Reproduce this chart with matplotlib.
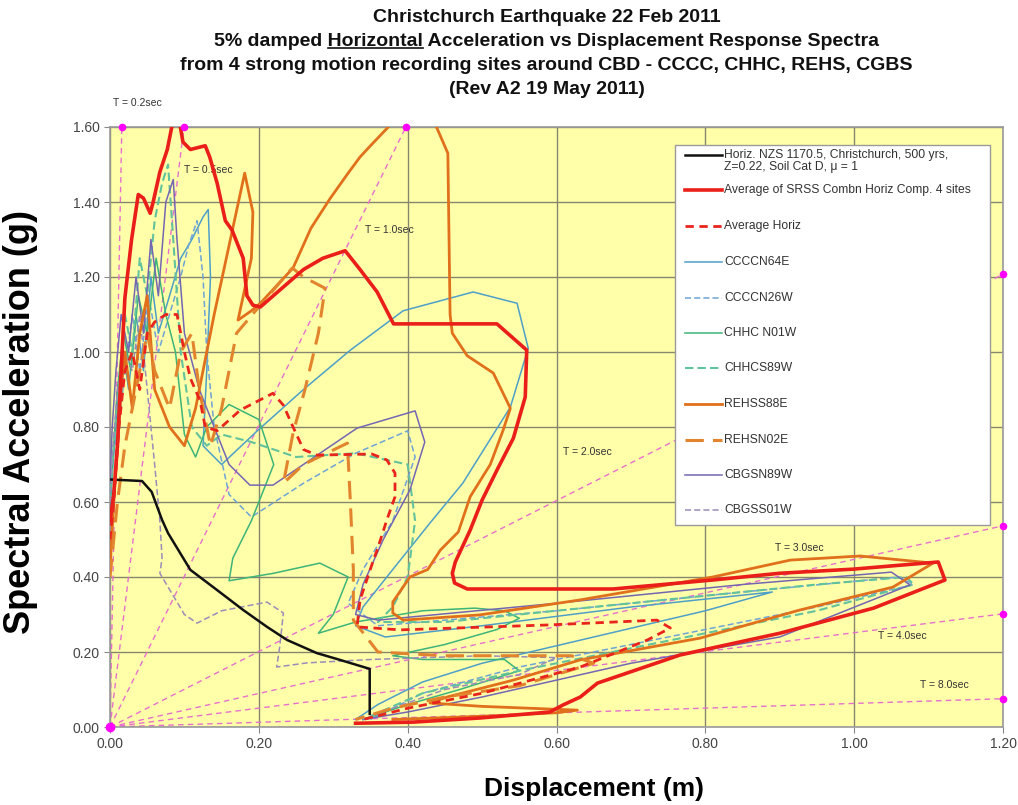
import matplotlib.pyplot as plt
from matplotlib.patches import Rectangle
import numpy as np

# ---- period lines (T) ----
periods = [0.2, 0.5, 1.0, 2.0, 3.0, 4.0, 8.0]
period_labels = ['T = 0.2sec', 'T = 0.5sec', 'T = 1.0sec', 'T = 2.0sec',
                 'T = 3.0sec', 'T = 4.0sec', 'T = 8.0sec']
period_label_sd = [0.004, 0.100, 0.343, 0.609, 0.894, 1.032, 1.089]
period_label_sa = [1.665, 1.485, 1.325, 0.733, 0.477, 0.243, 0.112]

# ---- spectra (displacement m, acceleration g) ----
nzs_sd = [0.0, 0.043, 0.056, 0.07, 0.078, 0.108, 0.144, 0.179, 0.211, 0.238, 0.278, 0.309, 0.349, 0.349]
nzs_sa = [0.66, 0.656, 0.627, 0.552, 0.517, 0.419, 0.365, 0.312, 0.267, 0.232, 0.197, 0.179, 0.155, 0.035]

srss_sd = [0.0, 0.005, 0.01, 0.015, 0.02, 0.029, 0.038, 0.045, 0.054, 0.058, 0.067, 0.077, 0.085, 0.092,
           0.098, 0.108, 0.128, 0.134, 0.144, 0.155, 0.164, 0.179, 0.184, 0.192, 0.202, 0.26, 0.286, 0.316,
           0.336, 0.359, 0.381, 0.52, 0.56, 0.558, 0.542, 0.52, 0.50, 0.484, 0.464, 0.46, 0.463, 0.48,
           0.676, 0.81, 0.90, 0.999, 1.113, 1.122, 1.026, 0.90, 0.766, 0.655, 0.632, 0.609, 0.591, 0.497,
           0.407, 0.33]
srss_sa = [0.55, 0.62, 0.75, 0.95, 1.144, 1.30, 1.42, 1.41, 1.37, 1.40, 1.48, 1.54, 1.62, 1.63,
           1.56, 1.54, 1.55, 1.52, 1.45, 1.35, 1.325, 1.25, 1.15, 1.125, 1.12, 1.22, 1.25, 1.27,
           1.22, 1.16, 1.075, 1.075, 1.005, 0.88, 0.77, 0.685, 0.605, 0.525, 0.44, 0.41, 0.384, 0.368,
           0.368, 0.392, 0.41, 0.421, 0.44, 0.392, 0.317, 0.25, 0.192, 0.117, 0.08, 0.059, 0.04, 0.024,
           0.013, 0.01]

avg_sd = [0.0, 0.005, 0.012, 0.02, 0.03, 0.04, 0.05, 0.06, 0.075, 0.09, 0.1, 0.108, 0.121, 0.128, 0.144,
          0.175, 0.219, 0.233, 0.246, 0.26, 0.278, 0.352, 0.372, 0.383, 0.383, 0.372, 0.359, 0.354, 0.336,
          0.332, 0.39, 0.587, 0.735, 0.753, 0.722, 0.632, 0.50, 0.40, 0.34]
avg_sa = [0.5, 0.6, 0.8, 0.95, 1.0, 0.9, 1.05, 1.08, 1.1, 1.1, 1.0, 0.93, 0.87, 0.80, 0.79,
          0.845, 0.89, 0.858, 0.80, 0.74, 0.725, 0.728, 0.712, 0.677, 0.614, 0.552, 0.472, 0.445, 0.339,
          0.267, 0.259, 0.272, 0.285, 0.264, 0.232, 0.16, 0.09, 0.05, 0.02]

c64_sd = [0.0, 0.004, 0.01, 0.018, 0.025, 0.035, 0.045, 0.055, 0.065, 0.08, 0.095, 0.11, 0.125, 0.132,
          0.135, 0.13, 0.125, 0.15, 0.198, 0.26, 0.323, 0.394, 0.488, 0.547, 0.562, 0.538, 0.474, 0.43,
          0.38, 0.34, 0.33, 0.37, 0.5, 0.7, 0.89, 0.8, 0.65, 0.5, 0.42, 0.36, 0.33]
c64_sa = [0.58, 0.7, 0.85, 1.0, 0.9, 1.1, 0.95, 1.2, 1.05, 1.15, 1.25, 1.3, 1.36, 1.38,
          1.2, 0.95, 0.75, 0.7, 0.79, 0.9, 1.005, 1.11, 1.16, 1.13, 1.01, 0.853, 0.65, 0.544,
          0.42, 0.32, 0.27, 0.24, 0.27, 0.32, 0.36, 0.31, 0.24, 0.17, 0.12, 0.06, 0.02]

c26_sd = [0.0, 0.005, 0.012, 0.02, 0.03, 0.04, 0.052, 0.065, 0.08, 0.095, 0.105, 0.117, 0.125, 0.13,
          0.14, 0.16, 0.19, 0.26, 0.33, 0.40, 0.41, 0.38, 0.34, 0.32, 0.36, 0.6, 0.85, 1.06, 1.08, 0.95,
          0.75, 0.55, 0.42, 0.35]
c26_sa = [0.55, 0.65, 0.8, 0.95, 1.1, 0.95, 1.15, 1.0, 1.1, 1.2, 1.28, 1.35, 1.2, 1.0,
          0.8, 0.62, 0.56, 0.65, 0.73, 0.79, 0.72, 0.55, 0.42, 0.33, 0.27, 0.31, 0.36, 0.40, 0.38, 0.32,
          0.24, 0.16, 0.09, 0.02]

hn_sd = [0.0, 0.004, 0.01, 0.018, 0.028, 0.038, 0.05, 0.062, 0.075, 0.088, 0.1, 0.115, 0.13, 0.16, 0.20,
         0.22, 0.19, 0.165, 0.16, 0.22, 0.282, 0.32, 0.30, 0.28, 0.33, 0.42, 0.49, 0.53, 0.55, 0.52, 0.45,
         0.38, 0.42, 0.53, 0.55, 0.47, 0.40, 0.34]
hn_sa = [0.6, 0.72, 0.9, 1.05, 0.95, 1.15, 1.05, 1.25, 1.1, 1.0, 0.78, 0.72, 0.8, 0.86, 0.82,
         0.7, 0.55, 0.45, 0.39, 0.41, 0.437, 0.40, 0.3, 0.25, 0.28, 0.31, 0.317, 0.31, 0.29, 0.26, 0.22,
         0.19, 0.18, 0.18, 0.15, 0.1, 0.06, 0.02]

hs_sd = [0.0, 0.005, 0.012, 0.02, 0.03, 0.04, 0.05, 0.06, 0.07, 0.078, 0.085, 0.095, 0.11, 0.13, 0.15,
         0.19, 0.25, 0.33, 0.4, 0.41, 0.40, 0.38, 0.36, 0.45, 0.7, 0.95, 1.07, 1.08, 0.95, 0.75, 0.55,
         0.42, 0.34]
hs_sa = [0.6, 0.75, 0.9, 1.1, 1.0, 1.25, 1.15, 1.35, 1.45, 1.5, 1.3, 1.0, 0.8, 0.75, 0.78,
         0.76, 0.72, 0.73, 0.70, 0.55, 0.40, 0.32, 0.28, 0.28, 0.33, 0.38, 0.40, 0.38, 0.31, 0.23, 0.15,
         0.09, 0.02]

rs_sd = [0.0, 0.005, 0.01, 0.015, 0.02, 0.03, 0.04, 0.05, 0.06, 0.08, 0.1, 0.115, 0.14, 0.181, 0.192,
         0.19, 0.172, 0.19, 0.202, 0.246, 0.27, 0.296, 0.32, 0.336, 0.35, 0.374, 0.39, 0.43, 0.454, 0.457,
         0.46, 0.48, 0.515, 0.538, 0.528, 0.511, 0.484, 0.468, 0.444, 0.427, 0.403, 0.38, 0.38, 0.394,
         0.497, 0.632, 0.81, 0.914, 1.008, 1.106, 1.052, 0.927, 0.793, 0.632, 0.542, 0.453, 0.43, 0.5,
         0.628, 0.6, 0.542, 0.45, 0.38]
rs_sa = [0.42, 0.6, 0.75, 0.9, 1.0, 0.85, 1.05, 1.15, 0.9, 0.8, 0.75, 0.85, 1.1, 1.477, 1.373,
         1.25, 1.085, 1.11, 1.13, 1.224, 1.33, 1.41, 1.477, 1.52, 1.55, 1.60, 1.64, 1.64, 1.53, 1.10,
         1.05, 0.99, 0.944, 0.85, 0.79, 0.70, 0.614, 0.52, 0.472, 0.42, 0.40, 0.333, 0.304, 0.285,
         0.299, 0.339, 0.40, 0.445, 0.456, 0.437, 0.373, 0.312, 0.237, 0.179, 0.125, 0.08, 0.064, 0.055,
         0.045, 0.038, 0.032, 0.025, 0.02]

rn_sd = [0.0, 0.01, 0.02, 0.035, 0.05, 0.06, 0.08, 0.095, 0.11, 0.12, 0.135, 0.15, 0.17, 0.2, 0.245,
         0.26, 0.289, 0.28, 0.262, 0.246, 0.233, 0.26, 0.319, 0.323, 0.327, 0.327, 0.36, 0.45, 0.62,
         0.65, 0.55, 0.45, 0.38, 0.33]
rn_sa = [0.4, 0.6, 0.75, 0.9, 1.05, 0.95, 0.85, 1.0, 1.05, 0.9, 0.75, 0.85, 1.05, 1.12, 1.224,
         1.20, 1.17, 1.05, 0.90, 0.784, 0.65, 0.70, 0.757, 0.60, 0.42, 0.285, 0.2, 0.19, 0.19,
         0.17, 0.11, 0.08, 0.05, 0.02]

bn_sd = [0.0, 0.003, 0.008, 0.015, 0.025, 0.035, 0.045, 0.055, 0.065, 0.075, 0.085, 0.09, 0.1, 0.12, 0.16,
         0.188, 0.219, 0.332, 0.41, 0.423, 0.403, 0.367, 0.34, 0.33, 0.36, 0.6, 0.85, 1.05, 1.075, 0.9,
         0.7, 0.5, 0.4, 0.34]
bn_sa = [0.65, 0.8, 0.95, 1.1, 1.0, 1.2, 1.05, 1.3, 1.15, 1.4, 1.46, 1.3, 1.05, 0.9, 0.7,
         0.645, 0.645, 0.797, 0.843, 0.76, 0.632, 0.499, 0.38, 0.3, 0.285, 0.33, 0.38, 0.413, 0.379, 0.24,
         0.17, 0.08, 0.04, 0.02]

bs_sd = [0.0, 0.004, 0.01, 0.02, 0.03, 0.04, 0.05, 0.06, 0.067, 0.07, 0.067, 0.1, 0.117, 0.15, 0.211,
         0.233, 0.228, 0.224, 0.265, 0.35, 0.5, 0.6, 0.55, 0.45, 0.38, 0.34]
bs_sa = [0.6, 0.75, 0.9, 1.0, 0.95, 1.1, 0.9, 0.7, 0.55, 0.45, 0.41, 0.3, 0.277, 0.31, 0.333,
         0.304, 0.213, 0.16, 0.171, 0.18, 0.19, 0.185, 0.14, 0.1, 0.05, 0.02]

legend_labels = ['Horiz. NZS 1170.5, Christchurch, 500 yrs,\nZ=0.22, Soil Cat D, \u03bc = 1',
                 'Average of SRSS Combn Horiz Comp. 4 sites', 'Average Horiz',
                 'CCCCN64E', 'CCCCN26W', 'CHHC N01W', 'CHHCS89W',
                 'REHSS88E', 'REHSN02E', 'CBGSN89W', 'CBGSS01W']

# series in legend order: (sd, sa, style)
series = [
    (nzs_sd, nzs_sa, dict(color='#111111', lw=1.8, zorder=5)),
    (srss_sd, srss_sa, dict(color='#EA1F1A', lw=2.6, zorder=5)),
    (avg_sd, avg_sa, dict(color='#E8241C', lw=2.0, ls=(0, (3, 2)), zorder=5)),
    (c64_sd, c64_sa, dict(color='#4E9FC8', lw=1.1, zorder=3)),
    (c26_sd, c26_sa, dict(color='#6FA3D6', lw=1.1, ls=(0, (4, 2)), zorder=3)),
    (hn_sd, hn_sa, dict(color='#3DB478', lw=1.1, zorder=3)),
    (hs_sd, hs_sa, dict(color='#62C29C', lw=1.5, ls=(0, (4, 2)), zorder=3)),
    (rs_sd, rs_sa, dict(color='#E0701C', lw=2.0, zorder=4)),
    (rn_sd, rn_sa, dict(color='#E2842E', lw=2.2, ls=(0, (6, 3)), zorder=4)),
    (bn_sd, bn_sa, dict(color='#7466B2', lw=1.1, zorder=3)),
    (bs_sd, bs_sa, dict(color='#9A8CB8', lw=1.1, ls=(0, (4, 2)), zorder=3)),
]

plt.rcParams['font.family'] = ['Liberation Sans', 'DejaVu Sans']

fig = plt.figure(figsize=(10.18, 8.05), dpi=100)
ax = fig.add_axes([110 / 1018, 1 - 727 / 805, 893 / 1018, 600 / 805])
ax.set_facecolor('#FFFFAA')


def axx(px):
    return (px - 110) / 893


def axy(py):
    return (727 - py) / 600


# period lines from the origin
g = 9.81
for T in periods:
    k = (2 * np.pi / T) ** 2 / g
    d_end = min(1.2, 1.6 / k)
    ax.plot([0, d_end], [0, k * d_end], color='#E570CC', lw=1, ls=(0, (4, 3)), zorder=2)
    ax.plot([d_end], [k * d_end], 'o', color='#FF00FF', ms=4.5, clip_on=False, zorder=6)
ax.plot([0], [0], 'o', color='#FF00FF', ms=6, clip_on=False, zorder=6)

for lab, x, y in zip(period_labels, period_label_sd, period_label_sa):
    ax.text(x, y, lab, fontsize=7.5, color='#333333', ha='left', va='center', clip_on=False)

for sd, sa, st in series:
    ax.plot(sd, sa, **st)

# legend box (drawn by hand to follow the original spacing)
ax.add_patch(Rectangle((axx(675), axy(525)), (990 - 675) / 893, (525 - 145) / 600,
                       transform=ax.transAxes, facecolor='white', edgecolor='#9A9A9A',
                       lw=1, zorder=7, clip_on=False))
leg_y = [155, 190, 226, 262, 298, 333, 368, 404, 440, 475, 510]
for (sd, sa, st), lab, yp in zip(series, legend_labels, leg_y):
    hst = {k: v for k, v in st.items() if k != 'zorder'}
    ax.plot([axx(685), axx(722)], [axy(yp), axy(yp)], transform=ax.transAxes,
            zorder=8, clip_on=False, **hst)
    if '\n' in lab:
        ax.text(axx(724), axy(149), lab, transform=ax.transAxes, fontsize=8.7, color='#333333',
                va='top', ha='left', linespacing=1.05, zorder=8)
    else:
        ax.text(axx(724), axy(yp), lab, transform=ax.transAxes, fontsize=8.7, color='#333333',
                va='center', ha='left', zorder=8)

ax.set_xlim(0, 1.2)
ax.set_ylim(0, 1.6)
ax.set_xticks(np.arange(0, 1.21, 0.2))
ax.set_yticks(np.arange(0, 1.61, 0.2))
ax.xaxis.set_major_formatter(plt.FormatStrFormatter('%.2f'))
ax.yaxis.set_major_formatter(plt.FormatStrFormatter('%.2f'))
ax.tick_params(labelsize=10, colors='#444444', length=4, color='#888888')
ax.grid(True, color='#86866E', lw=1)
ax.set_axisbelow(True)
for s in ax.spines.values():
    s.set_color('#9A9A9A')
    s.set_linewidth(1.2)

ax.set_xlabel('Displacement (m)', fontsize=19, fontweight='bold')
ax.set_ylabel('Spectral Acceleration (g)', fontsize=26, fontweight='bold')
ax.xaxis.set_label_coords(0.542, -0.083)
ax.yaxis.set_label_coords(-0.081, 0.508)

# title block
title_lines = ['Christchurch Earthquake 22 Feb 2011',
               '5% damped Horizontal Acceleration vs Displacement Response Spectra',
               'from 4 strong motion recording sites around CBD - CCCC, CHHC, REHS, CGBS',
               '(Rev A2 19 May 2011)']
title_y = [18, 42, 65, 89]
xc = 0.537
tsize = 14
texts = []
for line, yp in zip(title_lines, title_y):
    texts.append(fig.text(xc, 1 - yp / 805, line, ha='center', va='center',
                          fontsize=tsize, fontweight='bold', color='#111111'))

# underline "Horizontal"
renderer = fig.canvas.get_renderer()
bb = texts[1].get_window_extent(renderer)
pre = fig.text(0, 0, '5% damped ', fontsize=tsize, fontweight='bold')
word = fig.text(0, 0, '5% damped Horizontal', fontsize=tsize, fontweight='bold')
w_pre = pre.get_window_extent(renderer).width
w_word = word.get_window_extent(renderer).width
pre.remove()
word.remove()
x0 = (bb.x0 + w_pre) / fig.bbox.width
x1 = (bb.x0 + w_word) / fig.bbox.width
yu = (bb.y0 + 2) / fig.bbox.height
fig.add_artist(plt.Line2D([x0, x1], [yu, yu], color='#111111', lw=1.2))

fig.savefig('out.png', dpi=100, facecolor='white')
